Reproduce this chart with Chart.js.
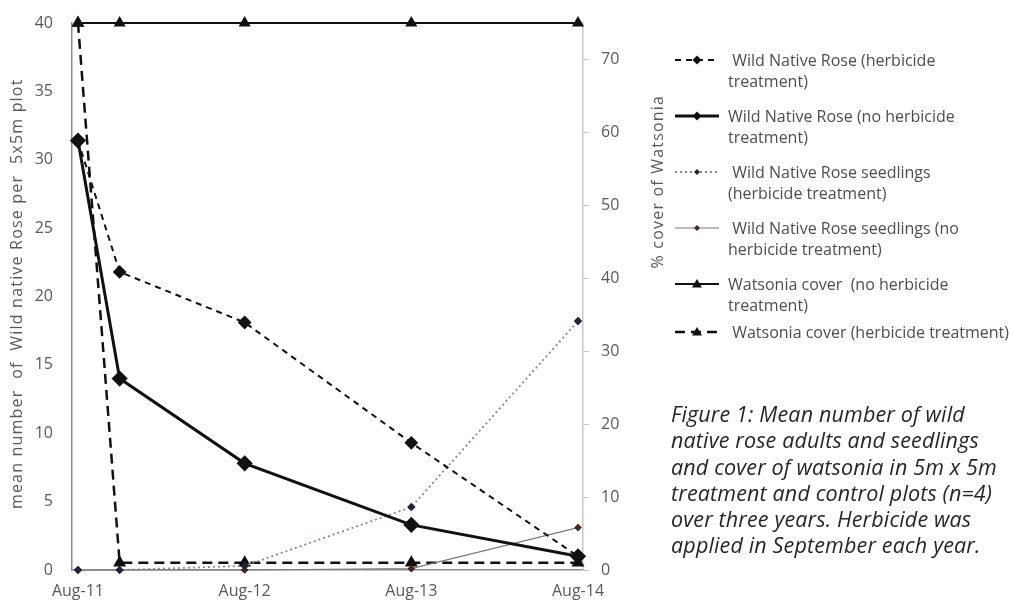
<!DOCTYPE html>
<html>
<head>
<meta charset="utf-8">
<script src="https://cdn.jsdelivr.net/npm/chart.js@4.4.1/dist/chart.umd.min.js"></script>
<style>
  html, body { margin: 0; padding: 0; background: #fff; }
  #wrap { position: relative; width: 1012px; height: 603px; overflow: hidden; }
  #chart { position: absolute; left: 0; top: 0; }
  #legend { position: absolute; left: 674px; top: 50px; font: 16px 'Open Sans', sans-serif; color: #4d4d4d; }
  .item { display: flex; align-items: flex-start; margin-bottom: 15px; line-height: 20.5px; }
  .item:last-child { margin-top: -8px; }
  .item svg { flex: none; width: 46px; height: 20px; }
  .item span { display: block; width: 300px; padding-left: 8px; white-space: pre; }
  #caption { position: absolute; left: 671px; top: 401px; font: italic 21.5px 'Open Sans', sans-serif; letter-spacing: 0.15px; line-height: 26.3px; color: #262626; white-space: nowrap; }
</style>
</head>
<body>
<div id="wrap">
  <canvas id="chart" width="1012" height="603"></canvas>
  <div id="legend"></div>
  <div id="caption">Figure 1: Mean number of wild<br>native rose adults and seedlings<br>and cover of watsonia in 5m x 5m<br>treatment and control plots (n=4)<br>over three years. Herbicide was<br>applied in September each year.</div>
</div>
<script>
// months since Aug-11 for each survey
const sampleMonths = [0, 3, 12, 24, 36]
const tickMonths = [0, 12, 24, 36]
const tickLabels = ['Aug-11', 'Aug-12', 'Aug-13', 'Aug-14']
const leftTicks = [0, 5, 10, 15, 20, 25, 30, 35, 40]
const rightTicks = [0, 10, 20, 30, 40, 50, 60, 70]

// legend names, broken where the original legend wraps them
const seriesNames = [
  ' Wild Native Rose (herbicide\ntreatment)',
  'Wild Native Rose (no herbicide\ntreatment)',
  ' Wild Native Rose seedlings\n(herbicide treatment)',
  ' Wild Native Rose seedlings (no\nherbicide treatment)',
  'Watsonia cover  (no herbicide\ntreatment)',
  ' Watsonia cover (herbicide treatment)'
]
const roseHerbicide = [31.4, 21.8, 18.1, 9.3, 1.0]
const roseNoHerbicide = [31.4, 14.0, 7.8, 3.3, 1.0]
const seedlingsHerbicide = [0, 0, 0.3, 4.6, 18.2]
const seedlingsNoHerbicide = [0, 0, 0, 0.1, 3.1]
const watsoniaNoHerbicide = [75, 75, 75, 75, 75]
const watsoniaHerbicide = [75, 1, 1, 1, 1]

const leftTitle = 'mean number  of  Wild native Rose per  5x5m plot'
const rightTitleText = '% cover of Watsonia'

const pts = ys => sampleMonths.map((x, i) => ({ x, y: ys[i] }))
const font = "'Open Sans', sans-serif"

const datasets = [
  {
    label: seriesNames[0], data: pts(roseHerbicide), yAxisID: 'y',
    borderColor: '#111', borderWidth: 2, borderDash: [6, 5],
    pointStyle: 'rectRot', pointRadius: 5.5, pointBackgroundColor: '#111', pointBorderColor: '#111'
  },
  {
    label: seriesNames[1], data: pts(roseNoHerbicide), yAxisID: 'y',
    borderColor: '#111', borderWidth: 3,
    pointStyle: 'rectRot', pointRadius: 6, pointBackgroundColor: '#111', pointBorderColor: '#111'
  },
  {
    label: seriesNames[2], data: pts(seedlingsHerbicide), yAxisID: 'y',
    borderColor: '#7b8a9f', borderWidth: 1.8, borderDash: [2, 3],
    pointStyle: 'rectRot', pointRadius: 3, pointBackgroundColor: '#1c2638', pointBorderColor: '#1c2638'
  },
  {
    label: seriesNames[3], data: pts(seedlingsNoHerbicide), yAxisID: 'y',
    borderColor: '#7a7a7a', borderWidth: 1.2,
    pointStyle: 'rectRot', pointRadius: 3, pointBackgroundColor: '#4a2414', pointBorderColor: '#4a2414'
  },
  {
    label: seriesNames[4], data: pts(watsoniaNoHerbicide), yAxisID: 'y1',
    borderColor: '#111', borderWidth: 2,
    pointStyle: 'triangle', pointRadius: 5, pointBackgroundColor: '#111', pointBorderColor: '#111'
  },
  {
    label: seriesNames[5], data: pts(watsoniaHerbicide), yAxisID: 'y1',
    borderColor: '#111', borderWidth: 2.5, borderDash: [10, 6],
    pointStyle: 'triangle', pointRadius: 5, pointBackgroundColor: '#111', pointBorderColor: '#111'
  }
]
datasets.forEach(d => { d.fill = false; d.tension = 0; d.clip = false })

// both axis titles read bottom-to-top and are a little letter-spaced
function sideTitle(ctx, text, x, y) {
  ctx.save()
  ctx.translate(x, y)
  ctx.rotate(-Math.PI / 2)
  ctx.font = '16px ' + font
  ctx.letterSpacing = '1.2px'
  ctx.fillStyle = '#595959'
  ctx.textAlign = 'center'
  ctx.textBaseline = 'middle'
  ctx.fillText(text, 0, 0)
  ctx.restore()
}
const axisTitles = {
  id: 'axisTitles',
  afterDraw(chart) {
    const area = chart.chartArea
    const h = area.bottom - area.top
    sideTitle(chart.ctx, leftTitle, chart.scales.y.left + 15, area.top + h * 0.495)
    sideTitle(chart.ctx, rightTitleText, chart.scales.y1.right - 11, area.top + h * 0.29)
  }
}

const chart = new Chart(document.getElementById('chart'), {
  type: 'line',
  data: { datasets },
  plugins: [axisTitles],
  options: {
    responsive: false,
    animation: false,
    layout: { padding: { left: 2, right: 343, top: 23, bottom: 0 } },
    plugins: { legend: { display: false }, tooltip: { enabled: false } },
    scales: {
      x: {
        type: 'linear', min: -0.43, max: 36.36,
        afterBuildTicks: axis => { axis.ticks = tickMonths.map(v => ({ value: v })) },
        afterFit: axis => { axis.height = 33 },
        grid: { display: false, drawTicks: true, tickLength: 8 },
        border: { display: true, color: '#8c8c8c', width: 1.5 },
        ticks: {
          autoSkip: false, maxRotation: 0, padding: 4, color: '#595959',
          font: { family: font, size: 16 },
          callback: v => tickLabels[tickMonths.indexOf(v)]
        }
      },
      y: {
        position: 'left', min: 0, max: 40,
        afterBuildTicks: axis => { axis.ticks = leftTicks.map(v => ({ value: v })) },
        afterFit: axis => { axis.width = 70 },
        grid: { display: false, drawTicks: true, tickLength: 15 },
        border: { display: true, color: '#8c8c8c', width: 1.5 },
        ticks: { padding: 4, color: '#595959', font: { family: font, size: 16 } }
      },
      y1: {
        position: 'right', min: 0, max: 75,
        afterBuildTicks: axis => { axis.ticks = rightTicks.map(v => ({ value: v })) },
        afterFit: axis => { axis.width = 86 },
        grid: { display: true, drawOnChartArea: false, drawTicks: true, tickLength: 6, color: '#c8c8c8' },
        border: { display: true, color: '#c8c8c8', width: 1.5 },
        ticks: { padding: 12, color: '#595959', font: { family: font, size: 16 } }
      }
    }
  }
})

// legend built from the datasets
function swatch(ds) {
  const dash = (ds.borderDash || []).join(' ')
  const c = ds.pointBackgroundColor
  let marker
  if (ds.pointStyle === 'triangle') {
    marker = `<polygon points="23,5 28,13.5 18,13.5" fill="${c}"/>`
  } else {
    const r = Math.min(ds.pointRadius, 4.5)
    marker = `<polygon points="23,${10 - r} ${23 + r},10 23,${10 + r} ${23 - r},10" fill="${c}"/>`
  }
  return `<svg viewBox="0 0 46 20"><line x1="1" y1="10" x2="45" y2="10" stroke="${ds.borderColor}" stroke-width="${ds.borderWidth}" stroke-dasharray="${dash}"/>${marker}</svg>`
}
document.getElementById('legend').innerHTML = datasets
  .map(ds => `<div class="item">${swatch(ds)}<span>${ds.label}</span></div>`)
  .join('')
</script>
</body>
</html>
